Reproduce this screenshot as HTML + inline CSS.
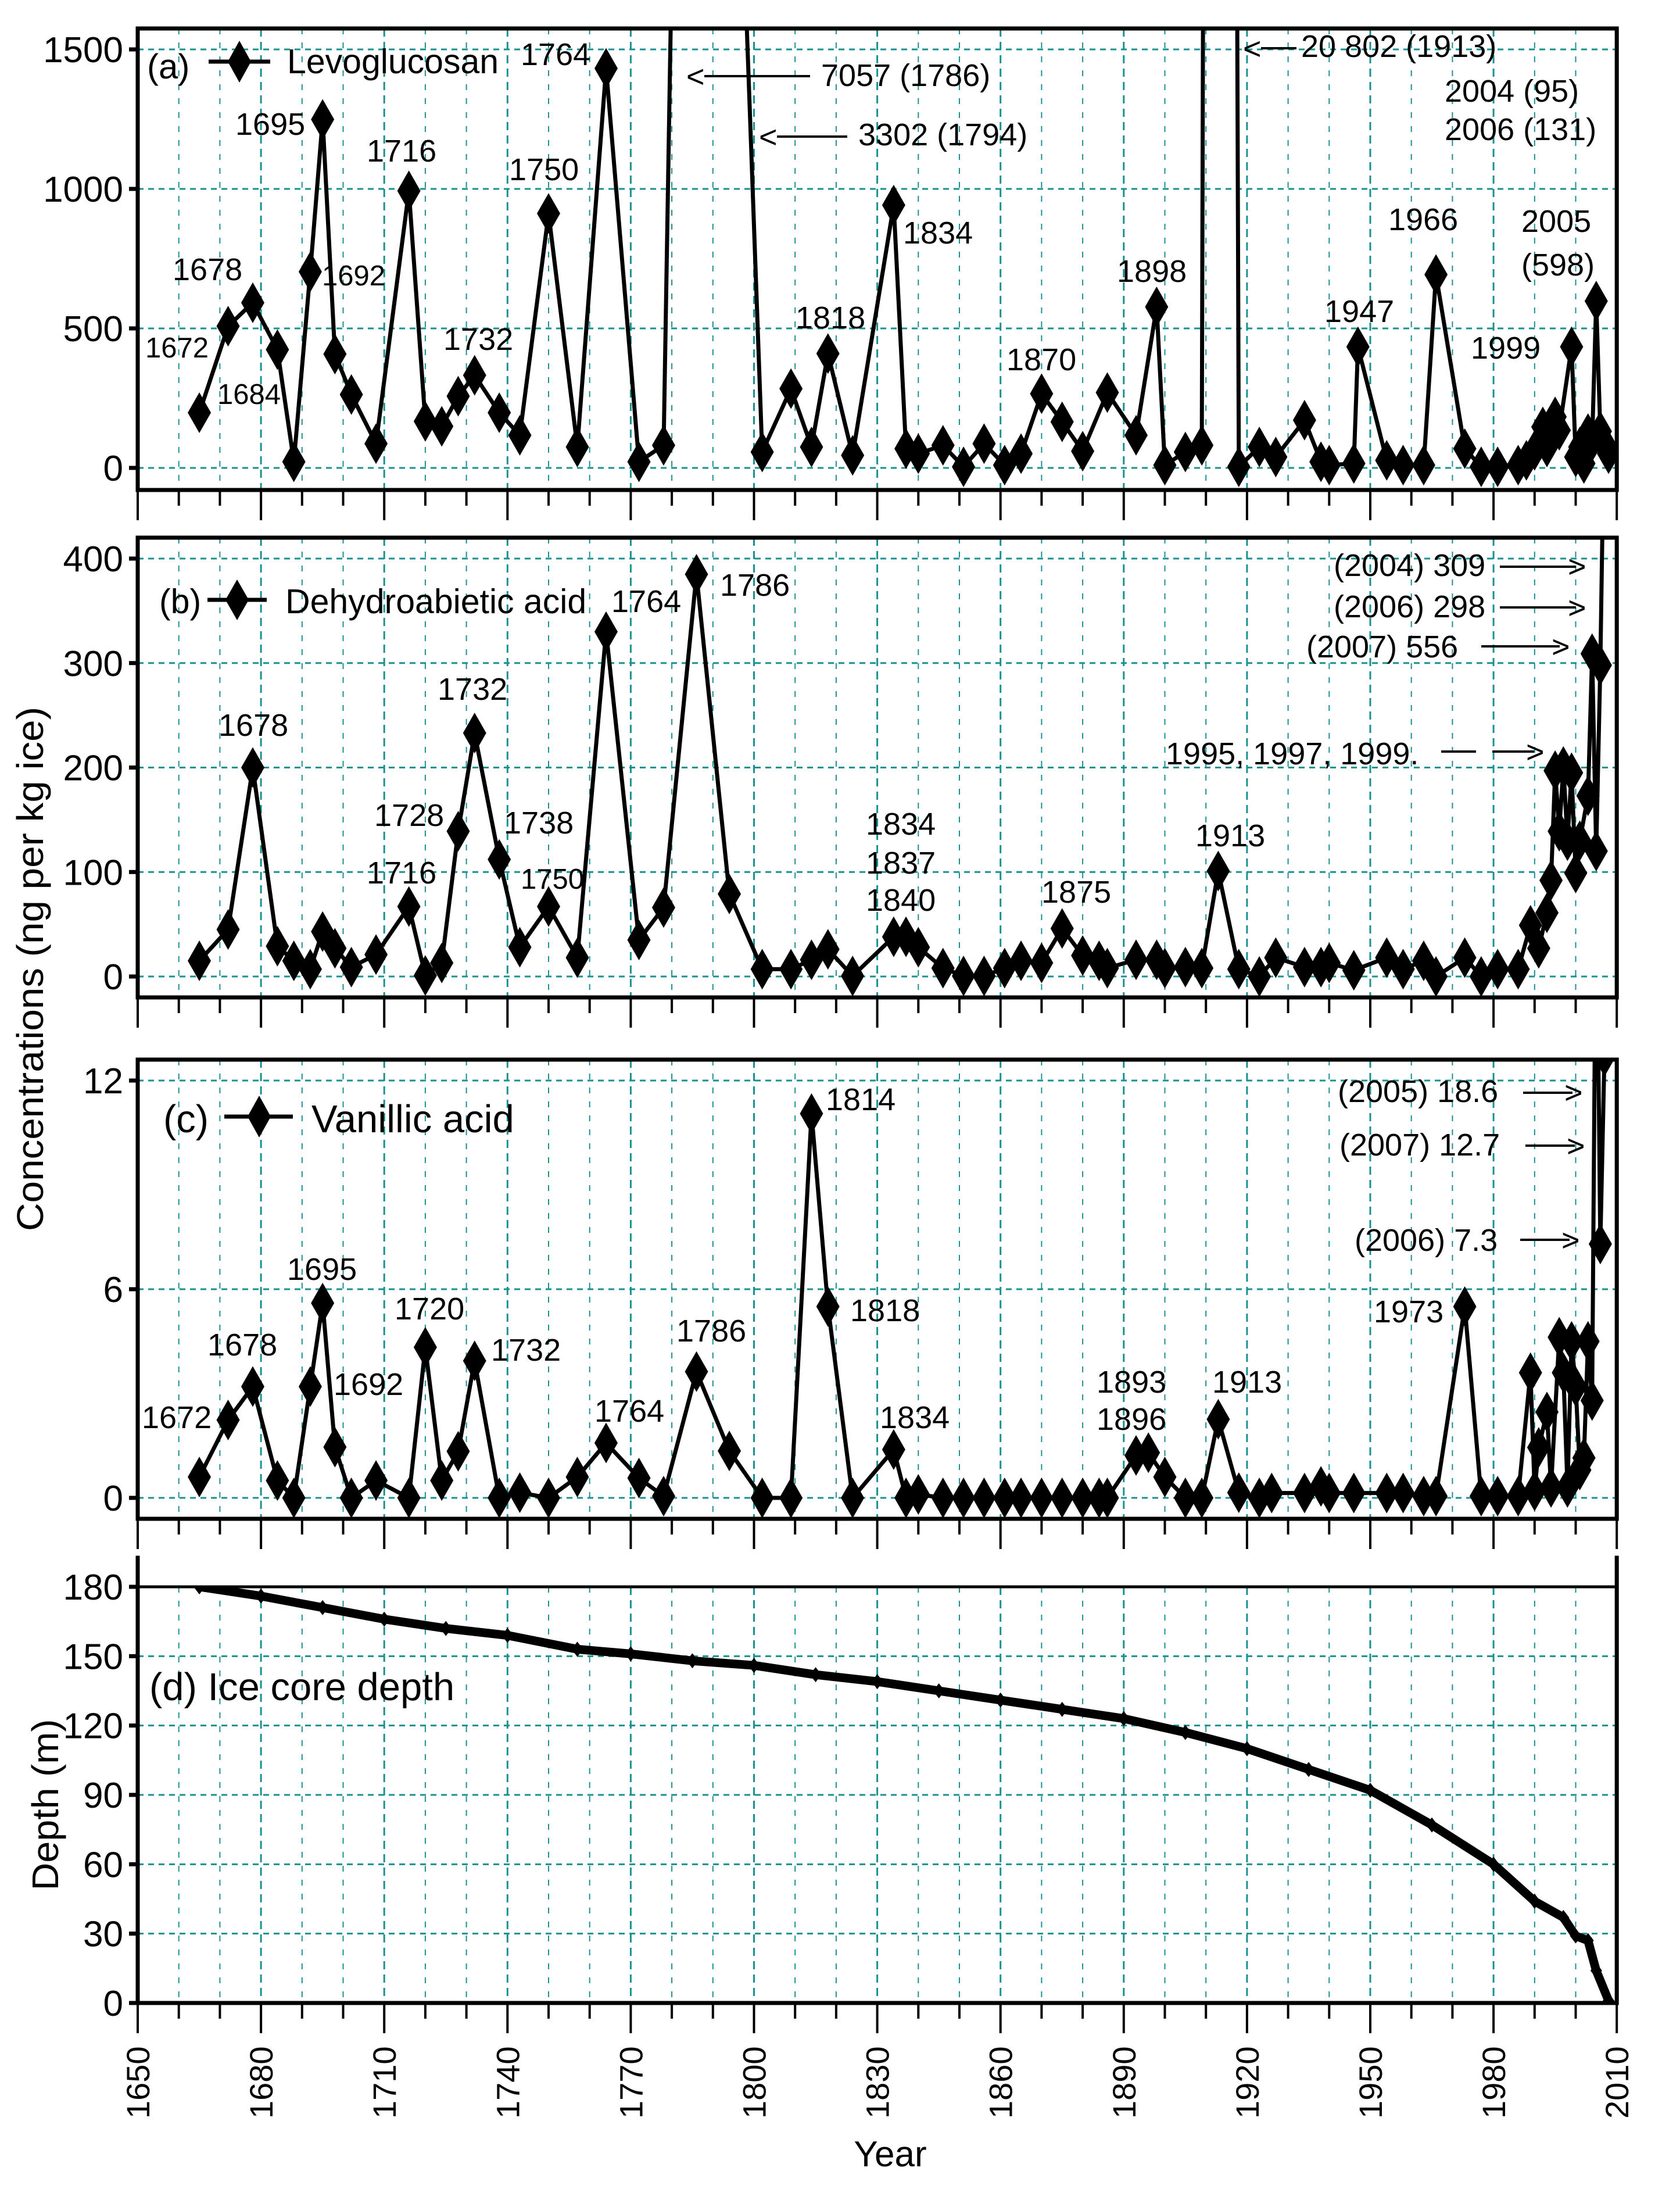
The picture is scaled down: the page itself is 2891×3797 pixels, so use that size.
<!DOCTYPE html>
<html><head><meta charset="utf-8"><title>Ice core biomass burning tracers</title>
<style>
html,body{margin:0;padding:0;background:#fff;}
svg{display:block;font-family:"Liberation Sans",Arial,sans-serif;}
.ann{font-size:54px;fill:#000;}
.tick{font-size:62px;fill:#000;}
</style></head>
<body>
<svg id="fig" xmlns="http://www.w3.org/2000/svg" width="2891" height="3797" viewBox="0 0 2891 3797">
<rect x="0" y="0" width="2891" height="3797" fill="#fff"/>
<g id="grid"></g>
<g id="marks"></g>
<g id="axes"></g>

<g>
<text x="253" y="135" style="font-size:60px">(a)</text>
<line x1="359" y1="106" x2="465" y2="106" stroke="#000" stroke-width="7"/>
<polygon points="412,70 432,106 412,142 392,106" fill="#000"/>
<text x="494" y="126" style="font-size:59px">Levoglucosan</text>
<text class="ann" x="405" y="232">1695</text>
<text class="ann" x="631" y="278">1716</text>
<text class="ann" x="297" y="482">1678</text>
<text class="ann" x="554" y="491" style="font-size:49px">1692</text>
<text class="ann" x="250" y="615" style="font-size:49px">1672</text>
<text class="ann" x="374" y="695" style="font-size:49px">1684</text>
<text class="ann" x="763" y="602">1732</text>
<text class="ann" x="876" y="310">1750</text>
<text class="ann" x="896" y="112">1764</text>
<text class="ann" x="1181" y="150">&lt;</text>
<line x1="1212" y1="131" x2="1394" y2="131" stroke="#000" stroke-width="4"/>
<text class="ann" x="1413" y="148">7057 (1786)</text>
<text class="ann" x="1306" y="254">&lt;</text>
<line x1="1337" y1="235" x2="1458" y2="235" stroke="#000" stroke-width="4"/>
<text class="ann" x="1477" y="250">3302 (1794)</text>
<text class="ann" x="1554" y="419">1834</text>
<text class="ann" x="1369" y="565">1818</text>
<text class="ann" x="1732" y="637">1870</text>
<text class="ann" x="1922" y="485">1898</text>
<text class="ann" x="2139" y="102">&lt;</text>
<line x1="2170" y1="83" x2="2231" y2="83" stroke="#000" stroke-width="4"/>
<text class="ann" x="2239" y="98">20 802 (1913)</text>
<text class="ann" x="2486" y="175">2004 (95)</text>
<text class="ann" x="2486" y="241">2006 (131)</text>
<text class="ann" x="2389" y="396">1966</text>
<text class="ann" x="2618" y="399">2005</text>
<text class="ann" x="2618" y="474">(598)</text>
<text class="ann" x="2279" y="554">1947</text>
<text class="ann" x="2531" y="617">1999</text>
</g>

<g>
<text x="274" y="1055" style="font-size:59px">(b)</text>
<line x1="357" y1="1032" x2="459" y2="1032" stroke="#000" stroke-width="7"/>
<polygon points="408,997 428,1032 408,1067 388,1032" fill="#000"/>
<text x="491" y="1055" style="font-size:59px">Dehydroabietic acid</text>
<text class="ann" x="376" y="1266">1678</text>
<text class="ann" x="753" y="1204">1732</text>
<text class="ann" x="644" y="1421">1728</text>
<text class="ann" x="631" y="1520">1716</text>
<text class="ann" x="867" y="1434">1738</text>
<text class="ann" x="896" y="1529" style="font-size:49px">1750</text>
<text class="ann" x="1052" y="1053">1764</text>
<text class="ann" x="1239" y="1025">1786</text>
<text class="ann" x="1490" y="1436">1834</text>
<text class="ann" x="1490" y="1503">1837</text>
<text class="ann" x="1490" y="1567">1840</text>
<text class="ann" x="1792" y="1553">1875</text>
<text class="ann" x="2057" y="1456">1913</text>
<text class="ann" x="2295" y="991">(2004) 309</text>
<line x1="2581" y1="975" x2="2712" y2="975" stroke="#000" stroke-width="4"/>
<text class="ann" x="2698" y="993">&gt;</text>
<text class="ann" x="2295" y="1062">(2006) 298</text>
<line x1="2581" y1="1045" x2="2712" y2="1045" stroke="#000" stroke-width="4"/>
<text class="ann" x="2698" y="1064">&gt;</text>
<text class="ann" x="2248" y="1131">(2007) 556</text>
<line x1="2549" y1="1112" x2="2684" y2="1112" stroke="#000" stroke-width="4"/>
<text class="ann" x="2670" y="1131">&gt;</text>
<text class="ann" x="2006" y="1315">1995, 1997, 1999.</text>
<line x1="2480" y1="1293" x2="2540" y2="1293" stroke="#000" stroke-width="4"/>
<line x1="2568" y1="1293" x2="2640" y2="1293" stroke="#000" stroke-width="4"/>
<text class="ann" x="2626" y="1312">&gt;</text>
</g>

<g>
<text x="281" y="1948" style="font-size:67px">(c)</text>
<line x1="386" y1="1921" x2="504" y2="1921" stroke="#000" stroke-width="7"/>
<polygon points="446,1885 466,1921 446,1957 426,1921" fill="#000"/>
<text x="536" y="1948" style="font-size:67px">Vanillic acid</text>
<text class="ann" x="494" y="2202">1695</text>
<text class="ann" x="357" y="2332">1678</text>
<text class="ann" x="244" y="2457">1672</text>
<text class="ann" x="574" y="2400">1692</text>
<text class="ann" x="679" y="2270">1720</text>
<text class="ann" x="845" y="2341">1732</text>
<text class="ann" x="1023" y="2446">1764</text>
<text class="ann" x="1164" y="2308">1786</text>
<text class="ann" x="1421" y="1910">1814</text>
<text class="ann" x="1463" y="2273">1818</text>
<text class="ann" x="1514" y="2457">1834</text>
<text class="ann" x="1887" y="2396">1893</text>
<text class="ann" x="1887" y="2460">1896</text>
<text class="ann" x="2086" y="2396">1913</text>
<text class="ann" x="2364" y="2275">1973</text>
<text class="ann" x="2302" y="1896">(2005) 18.6</text>
<line x1="2621" y1="1880" x2="2706" y2="1880" stroke="#000" stroke-width="4"/>
<text class="ann" x="2692" y="1898">&gt;</text>
<text class="ann" x="2305" y="1988">(2007) 12.7</text>
<line x1="2625" y1="1971" x2="2710" y2="1971" stroke="#000" stroke-width="4"/>
<text class="ann" x="2696" y="1990">&gt;</text>
<text class="ann" x="2331" y="2152">(2006) 7.3</text>
<line x1="2616" y1="2133" x2="2701" y2="2133" stroke="#000" stroke-width="4"/>
<text class="ann" x="2687" y="2152">&gt;</text>
</g>

<text x="257" y="2925" style="font-size:67px">(d) Ice core depth</text>

<text transform="translate(74,1667) rotate(-90)" text-anchor="middle" textLength="902" lengthAdjust="spacingAndGlyphs" style="font-size:64px">Concentrations (ng per kg ice)</text>
<text transform="translate(100,3105) rotate(-90)" text-anchor="middle" textLength="295" lengthAdjust="spacingAndGlyphs" style="font-size:64px">Depth (m)</text>
<text x="1532" y="3727" text-anchor="middle" style="font-size:62px">Year</text>

<script>
const yearsA = [1665,1672,1678,1684,1688,1692,1695,1698,1702,1708,1716,1720,1724,1728,1732,1738,1743,1750,1757,1764,1772,1778,1786,1794,1802,1809,1814,1818,1824,1834,1837,1840,1846,1851,1856,1861,1865,1870,1875,1880,1886,1893,1898,1900,1905,1909,1913,1918,1923,1927,1934,1938,1940,1946,1947,1954,1958,1963,1966,1973,1977,1981,1986,1988,1990,1992,1993,1995,1996,1999,2000,2001,2002,2003,2004,2005,2006,2007,2008];
const valuesA = [198,508,592,424,22,703,1249,408,263,87,993,167,149,257,332,198,117,912,75,1432,22,81,7057,3302,57,284,75,410,45,942,69,51,81,4,87,10,51,266,165,60,270,117,577,10,57,81,20802,4,75,39,171,22,10,16,434,27,10,10,693,69,4,4,10,27,63,147,75,183,135,434,39,75,16,123,95,598,131,87,51];

const yearsB = [1665,1672,1678,1684,1688,1692,1695,1698,1702,1708,1716,1720,1724,1728,1732,1738,1743,1750,1757,1764,1772,1778,1786,1794,1802,1809,1814,1818,1824,1834,1837,1840,1846,1851,1856,1861,1865,1870,1875,1880,1884,1886,1893,1898,1900,1905,1909,1913,1918,1923,1927,1934,1938,1940,1946,1954,1958,1963,1966,1973,1977,1981,1986,1989,1991,1993,1994,1995,1996,1997,1998,1999,2000,2001,2003,2004,2005,2006,2007];
const valuesB = [15,45,200,29,15,7,43,27,9,21,67,1,13,139,233,112,28,67,18,330,35,66,385,79,7,7,16,26,0.5,38,38,28,8,0.5,0.5,8,15,13,46,20,15,8,16,16,8,9,8,101,7,0,18,9,9,13,6,18,7,15,0,18,0,7,7,49,27,61,92,197,139,201,130,195,99,130,173,309,120,298,556];

const yearsC = [1665,1672,1678,1684,1688,1692,1695,1698,1702,1708,1716,1720,1724,1728,1732,1738,1743,1750,1757,1764,1772,1778,1786,1794,1802,1809,1814,1818,1824,1834,1837,1840,1846,1851,1856,1861,1865,1870,1875,1880,1884,1886,1893,1896,1900,1905,1909,1913,1918,1923,1926,1934,1938,1940,1946,1954,1958,1963,1966,1973,1977,1981,1986,1989,1990,1991,1993,1994,1996,1997,1998,1999,2000,2001,2002,2003,2004,2005,2006,2007];
const valuesC = [0.6,2.24,3.2,0.5,0,3.2,5.6,1.46,0,0.5,0,4.33,0.5,1.34,3.94,0,0.15,0,0.6,1.58,0.57,0.05,3.63,1.35,0,0,11.05,5.5,0,1.39,0,0.1,0,0,0,0,0,0,0,0,0,0,1.22,1.3,0.6,0,0,2.26,0.15,0,0.14,0.14,0.33,0.14,0.14,0.14,0.14,0.05,0.05,5.5,0.05,0.05,0.05,3.6,0.2,1.45,2.47,0.3,4.62,3.6,0.3,4.5,3.2,0.8,1.15,4.5,2.8,18.6,7.3,12.7];

const yearsD = [1665,1680,1695,1710,1725,1740,1757,1770,1785,1800,1815,1830,1845,1860,1875,1890,1905,1920,1935,1950,1965,1980,1990,1997,2000,2003,2005,2008];
const depthD = [180,176,171,166,162,159,153,151,148,146,142,139,135,131,127,123,117,110,101,92,77,60,44,37,29,27,14,1];

const ticksA = [0,500,1000,1500];
const ticksB = [0,100,200,300,400];
const ticksC = [0,6,12];
const ticksD = [0,30,60,90,120,150,180];
const xTickYears = [1650,1680,1710,1740,1770,1800,1830,1860,1890,1920,1950,1980,2010];

const NS = "http://www.w3.org/2000/svg";
const X0 = 237, PX = 7.07, XR = 237 + 360*7.07;
function xs(yr){ return X0 + (yr-1650)*PX; }
const panels = [
  {id:'a', top:49,  bottom:843,  y0:805,  yTop:85,   vMax:1500, ticks:ticksA, years:yearsA, vals:valuesA},
  {id:'b', top:925, bottom:1716, y0:1680, yTop:961,  vMax:400,  ticks:ticksB, years:yearsB, vals:valuesB},
  {id:'c', top:1823,bottom:2613, y0:2577, yTop:1859, vMax:12,   ticks:ticksC, years:yearsC, vals:valuesC},
  {id:'d', top:2730,bottom:3446, y0:3446, yTop:2730, vMax:180,  ticks:ticksD, years:yearsD, vals:depthD}
];
function ys(p,v){ return p.y0 - (v/p.vMax)*(p.y0-p.yTop); }
function mk(tag, attrs, parent){
  const e = document.createElementNS(NS, tag);
  for (const k in attrs) e.setAttribute(k, attrs[k]);
  parent.appendChild(e);
  return e;
}
const svg = document.getElementById('fig');
const gGrid = document.getElementById('grid');
const gMarks = document.getElementById('marks');
const gAxes = document.getElementById('axes');
const defs = mk('defs', {}, svg);
const GRID = '#1a9191';

panels.forEach(p => {
  const cp = mk('clipPath', {id:'clip-'+p.id}, defs);
  mk('rect', {x:X0, y:p.top, width:XR-X0, height:p.bottom-p.top}, cp);

  for (let yr=1660; yr<2010; yr+=10){
    const major = (yr-1650)%30===0;
    const vl = mk('line', {x1:xs(yr), x2:xs(yr), y1:p.top, y2:p.bottom, stroke:GRID,
      'stroke-width': major?3:2, 'stroke-dasharray': major?'14 9':'10 14'}, gGrid);
    
    
  }
  p.ticks.forEach(t => {
    const y = ys(p,t);
    if (!(p.id==='d' && (t===0 || t===180))) {
      const hl = mk('line', {x1:X0, x2:XR, y1:y, y2:y, stroke:GRID, 'stroke-width':3, 'stroke-dasharray':'10 8'}, gGrid);
      
      
    }
    const tk = mk('line', {x1:X0-15, x2:X0, y1:y, y2:y, stroke:'#000', 'stroke-width':7}, gAxes);
    
    
    const tl = mk('text', {x:212, y:y+22, 'text-anchor':'end', class:'tick'}, gAxes);
    tl.textContent = String(t);
    
    
  });

  const frameTop = p.id==='d' ? 2680 : p.top;
  const fr = mk('path', {d:`M${X0},${frameTop} L${X0},${p.bottom} L${XR},${p.bottom} L${XR},${frameTop}` + (p.id==='d' ? '' : ` M${X0},${p.top} L${XR},${p.top}`),
    fill:'none', stroke:'#000', 'stroke-width':7, 'stroke-linecap':'square'}, gAxes);
  
  
  if (p.id==='d'){
    const tl180 = mk('line', {x1:X0, x2:XR, y1:p.top, y2:p.top, stroke:'#000', 'stroke-width':5}, gAxes);
    
    
  }
  for (let yr=1650; yr<=2010; yr+=10){
    const major = (yr-1650)%30===0;
    const xt = mk('line', {x1:xs(yr), x2:xs(yr), y1:p.bottom, y2:p.bottom+(major?52:27), stroke:'#000', 'stroke-width':4}, gAxes);
    
    
  }

  const g = mk('g', {'clip-path':'url(#clip-'+p.id+')'}, gMarks);
  
  
  const pts = p.years.map((yr,i) => [xs(yr), ys(p,p.vals[i])]);
  const line = mk('polyline', {points: pts.map(q=>q[0].toFixed(1)+','+q[1].toFixed(1)).join(' '),
    fill:'none', stroke:'#000', 'stroke-width': p.id==='d'?15:7, 'stroke-linejoin':'miter', 'stroke-miterlimit':3}, g);
  
  
  const hw = p.id==='d'?10:20, hh = p.id==='d'?13:35;
  pts.forEach((q,i) => {
    const d = mk('polygon', {points:`${q[0]},${q[1]-hh} ${q[0]+hw},${q[1]} ${q[0]},${q[1]+hh} ${q[0]-hw},${q[1]}`, fill:'#000'}, g);
    
    
  });
});

xTickYears.forEach(yr => {
  const t = mk('text', {transform:`translate(${xs(yr)+20},3645) rotate(-90)`, 'text-anchor':'start', style:'font-size:56px'}, gAxes);
  t.textContent = String(yr);
  
  
});
</script>
</svg>
</body></html>
